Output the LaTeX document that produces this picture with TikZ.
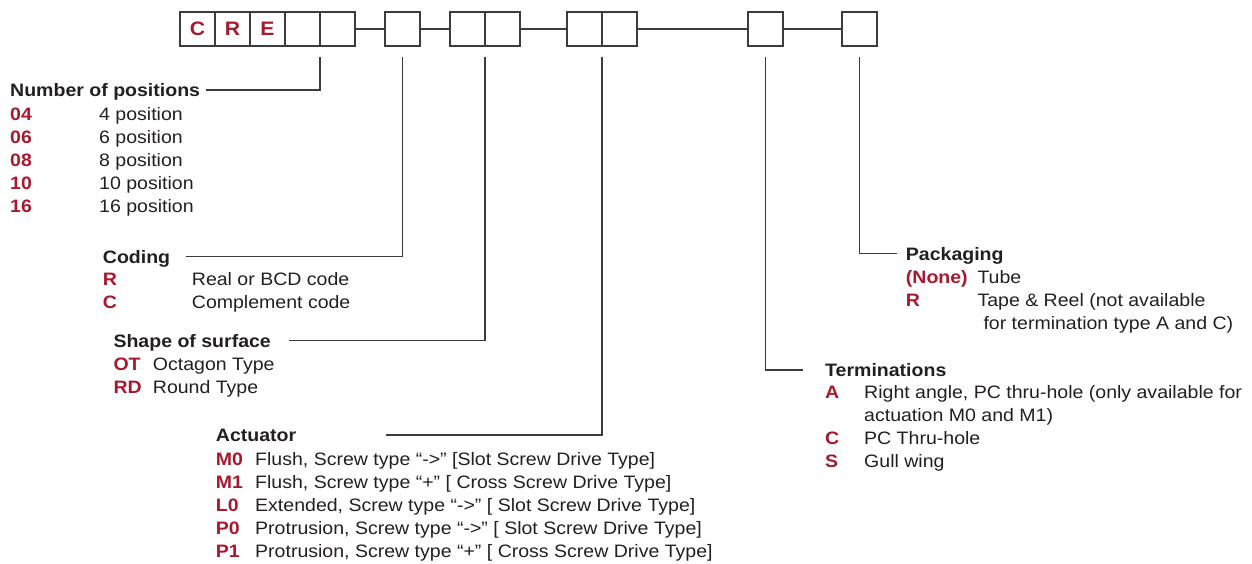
\documentclass[tikz,border=0pt]{standalone}
\usepackage{fontspec}
\setmainfont[FakeStretch=1.085]{Liberation Sans}
\usetikzlibrary{positioning}
\definecolor{codered}{RGB}{166,25,46}
\definecolor{inkgray}{RGB}{35,31,32}
\definecolor{linegray}{RGB}{60,60,60}
\newcommand{\code}[1]{\textcolor{codered}{\bfseries #1}}
\newcommand{\codelist}[2]{\begin{tabular}[t]{@{}p{#1}@{}l@{}}#2\end{tabular}}

\begin{document}
\begin{tikzpicture}[
    x=1pt, y=-1pt,
    every node/.style={text=inkgray, font=\fontsize{18}{23}\selectfont},
    box/.style={
        draw=linegray,
        line width=1.2pt,
        minimum width=35pt,
        minimum height=34pt,
        inner sep=0pt,
        outer sep=0pt,
        text=codered,
        font=\fontsize{19.5}{23}\selectfont\bfseries
    },
    head/.style={anchor=base west, inner sep=0pt, text height=13.5pt, text depth=0pt,
        font=\fontsize{18}{23}\selectfont\bfseries},
    list/.style={anchor=base west, inner sep=0pt},
    link/.style={draw=linegray, line width=1.1pt},
    lead/.style={draw=linegray, line width=1.1pt}
]
    \useasboundingbox (0,0) rectangle (1252,563);

    \node[box] (b1) at (197.5,29) {C};
    \node[box, right=0pt of b1] (b2) {R};
    \node[box, right=0pt of b2] (b3) {E};
    \node[box, right=0pt of b3] (b4) {};
    \node[box, right=0pt of b4] (b5) {};
    \node[box, right=30pt of b5] (b6) {};
    \node[box, right=30pt of b6] (b7) {};
    \node[box, right=0pt of b7] (b8) {};
    \node[box, right=47pt of b8] (b9) {};
    \node[box, right=0pt of b9] (b10) {};
    \node[box, right=111pt of b10] (b11) {};
    \node[box, right=59pt of b11] (b12) {};

    \draw[link] (b5) -- (b6);
    \draw[link] (b6) -- (b7);
    \draw[link] (b8) -- (b9);
    \draw[link] (b10) -- (b11);
    \draw[link] (b11) -- (b12);

    \coordinate (t1) at ([yshift=-11pt]b4.south east);
    \coordinate (t2) at ([yshift=-11pt]b6.south);
    \coordinate (t3) at ([yshift=-11pt]b7.south east);
    \coordinate (t4) at ([yshift=-11pt]b9.south east);
    \coordinate (t5) at ([yshift=-11pt]b11.south);
    \coordinate (t6) at ([yshift=-11pt]b12.south);

    \node[head] (npos) at (10,96.7) {Number of positions};
    \node[list] (nposlist) at ([yshift=-23.5pt]npos.base west)
        {\codelist{89pt}{\code{04} & 4 position\\ \code{06} & 6 position\\
        \code{08} & 8 position\\ \code{10} & 10 position\\ \code{16} & 16 position}};

    \node[head] (coding) at (102.7,263.3) {Coding};
    \node[list] (codinglist) at ([yshift=-22.5pt]coding.base west)
        {\codelist{89pt}{\code{R} & Real or BCD code\\ \code{C} & Complement code}};

    \node[head] (shape) at (113.3,347.3) {Shape of surface};
    \node[list] (shapelist) at ([yshift=-23.4pt]shape.base west)
        {\codelist{39.4pt}{\code{OT} & Octagon Type\\ \code{RD} & Round Type}};

    \node[head] (actuator) at (215.7,441.7) {Actuator};
    \node[list] (actuatorlist) at ([yshift=-23.3pt]actuator.base west)
        {\codelist{39.3pt}{\code{M0} & Flush, Screw type “->” [Slot Screw Drive Type]\\
        \code{M1} & Flush, Screw type “+” [ Cross Screw Drive Type]\\
        \code{L0} & Extended, Screw type “->” [ Slot Screw Drive Type]\\
        \code{P0} & Protrusion, Screw type “->” [ Slot Screw Drive Type]\\
        \code{P1} & Protrusion, Screw type “+” [ Cross Screw Drive Type]}};

    \node[head] (term) at (825,376.7) {Terminations};
    \node[list] (termlist) at ([yshift=-21.6pt]term.base west)
        {\codelist{39pt}{\code{A} & Right angle, PC thru-hole (only available for\\
        & actuation M0 and M1)\\ \code{C} & PC Thru-hole\\ \code{S} & Gull wing}};

    \node[head] (pack) at (905.7,260) {Packaging};
    \node[list] (packlist) at ([yshift=-23.3pt]pack.base west)
        {\codelist{71.6pt}{\code{(None)} & Tube\\ \code{R} & Tape \& Reel (not available\\
        & \hspace{6pt}for termination type A and C)}};

    \draw[lead, shorten <=6pt] (npos.east) -| (t1);
    \draw[lead, shorten <=16pt] (coding.east) -| (t2);
    \draw[lead, shorten <=18pt] (shape.east) -| (t3);
    \draw[lead, shorten <=90pt] (actuator.east) -| (t4);
    \draw[lead, shorten >=22pt] (t5) |- (term.west);
    \draw[lead, shorten >=9pt] (t6) |- (pack.west);
\end{tikzpicture}
\end{document}
